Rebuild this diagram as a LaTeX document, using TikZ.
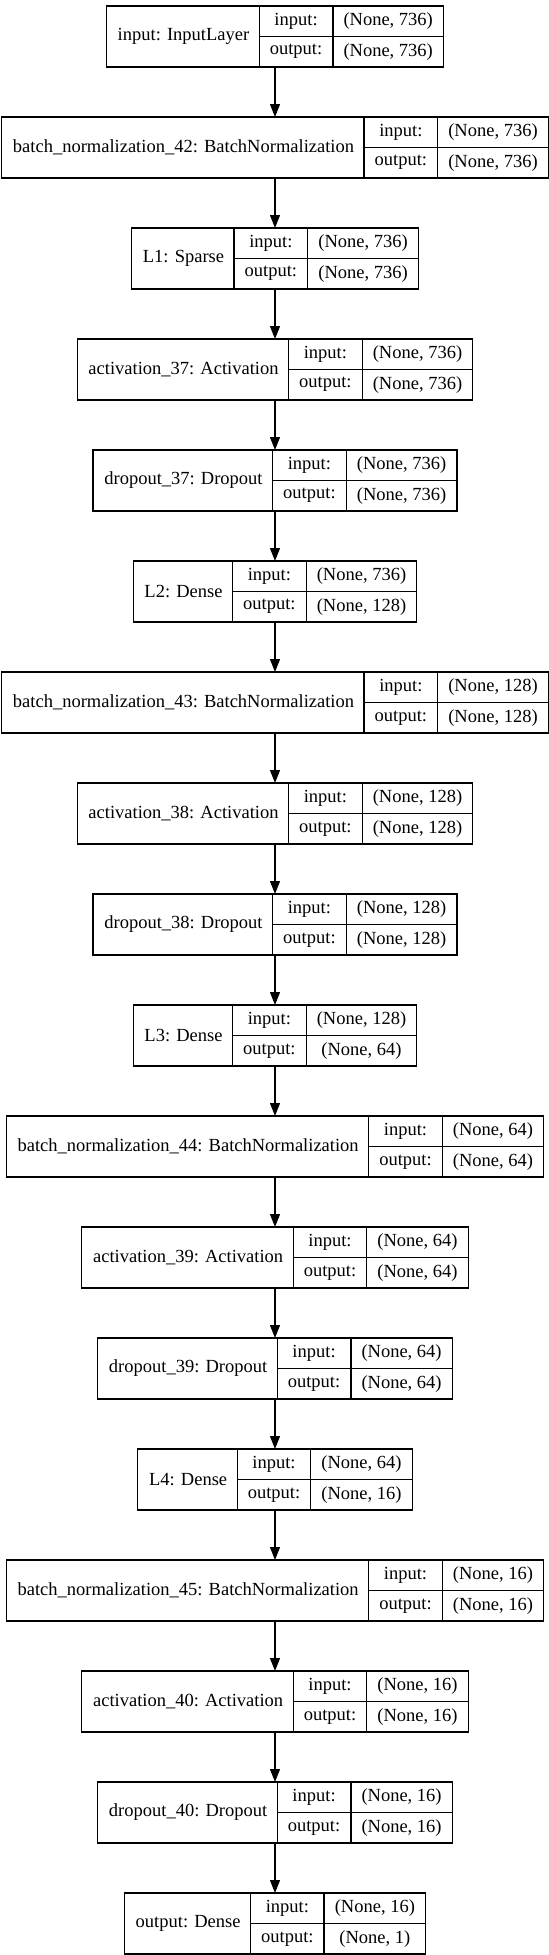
\documentclass[tikz,border=0pt]{standalone}
\usepackage{fontspec}
\setmainfont{Liberation Serif}
\usetikzlibrary{arrows.meta}
\newdimen\labw
\newdimen\valw
\newdimen\valwb
\newcommand\textwd[2]{\settowidth#1{\pgfinterruptpicture\selectfont#2\endpgfinterruptpicture}}
\begin{document}
\begin{tikzpicture}[x=1pt,y=-1pt,line width=1.3pt,
  cell/.style={draw,inner sep=0pt,outer sep=0pt,minimum height=30.5pt,minimum width=73.6pt,anchor=north west},
  arr/.style={-{Triangle[length=13pt,width=10pt]}}]
\fontsize{18.5}{22}\selectfont
\useasboundingbox (0,0) rectangle (549,1955);
\foreach \lab/\vin/\vout [count=\i from 0] in {input: InputLayer/736/736,
  batch\_normalization\_42: BatchNormalization/736/736, L1: Sparse/736/736,
  activation\_37: Activation/736/736, dropout\_37: Dropout/736/736, L2: Dense/736/128,
  batch\_normalization\_43: BatchNormalization/128/128, activation\_38: Activation/128/128,
  dropout\_38: Dropout/128/128, L3: Dense/128/64,
  batch\_normalization\_44: BatchNormalization/64/64, activation\_39: Activation/64/64,
  dropout\_39: Dropout/64/64, L4: Dense/64/16,
  batch\_normalization\_45: BatchNormalization/16/16, activation\_40: Activation/16/16,
  dropout\_40: Dropout/16/16, output: Dense/16/1}
{\textwd\labw{\lab}
 \textwd\valw{(None, \vin)}
 \textwd\valwb{(None, \vout)}
 \ifdim\valwb>\valw \valw=\valwb\fi
 \pgfmathsetmacro\tw{\labw+\valw+42.6+73.6}
 \pgfmathsetmacro\ty{36.5+111*\i}
 \node[draw,inner sep=0pt,outer sep=0pt,minimum width=\tw pt,minimum height=61pt] (box\i) at (275,\ty) {};
 \node[anchor=west,inner sep=0pt] (lab\i) at ([xshift=10.65pt]box\i.west) {\lab};
 \node[cell] (in\i) at ([xshift=\labw+21.3pt]box\i.north west) {input:};
 \node[cell,minimum width=\valw+21.3pt] (inv\i) at (in\i.north east) {(None, \vin)};
 \node[cell] (out\i) at (in\i.south west) {output:};
 \node[cell,minimum width=\valw+21.3pt] (outv\i) at (inv\i.south west) {(None, \vout)};}
\foreach \i [remember=\i as \j (initially 0)] in {1,...,17}
 \draw[arr] (box\j.south) -- (box\i.north);
\end{tikzpicture}
\end{document}
